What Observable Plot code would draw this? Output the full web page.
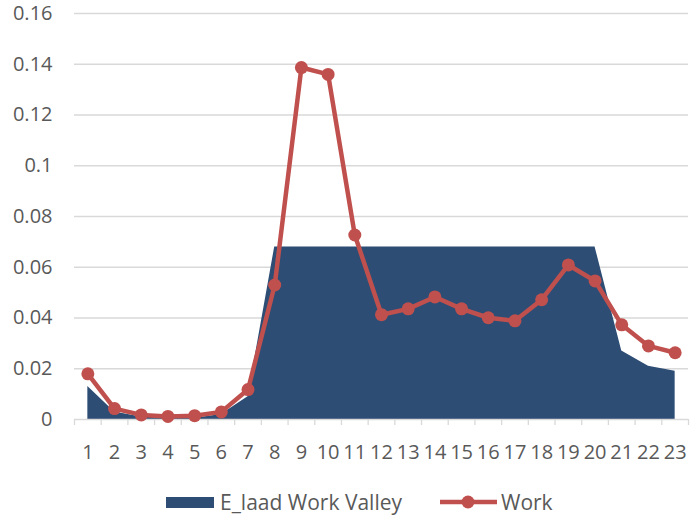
<!DOCTYPE html>
<html>
<head>
<meta charset="utf-8">
<script src="https://cdn.jsdelivr.net/npm/d3@7"></script>
<script src="https://cdn.jsdelivr.net/npm/@observablehq/plot@0.6"></script>
<style>
  body { margin: 0; background: #fff; font-family: "Open Sans", sans-serif; }
  #chart { width: 693px; height: 460px; }
  #legend { position: relative; height: 60px; width: 693px; font-size: 21px; color: #595959; }
  .item { position: absolute; top: 30px; display: flex; align-items: center; height: 24px; }
</style>
</head>
<body>
<div id="chart"></div>
<div id="legend">
  <div class="item" style="left:166px;">
    <span style="display:inline-block;width:48px;height:11px;background:#2D4D75;margin-right:6px;"></span>
    <span>E_laad Work Valley</span>
  </div>
  <div class="item" style="left:440px;">
    <svg width="58" height="16" style="margin-right:3px;"><line x1="0" y1="8" x2="57" y2="8" stroke="#C0504D" stroke-width="4.5"/><circle cx="28" cy="8" r="6.5" fill="#C0504D"/></svg>
    <span>Work</span>
  </div>
</div>
<script>
const hours = d3.range(1, 24);
const valleyValues = [0.013, 0.003, 0.001, 0.0005, 0.0005, 0.002, 0.009, 0.068, 0.068, 0.068, 0.068, 0.068, 0.068, 0.068, 0.068, 0.068, 0.068, 0.068, 0.068, 0.068, 0.027, 0.021, 0.019];
const workValues = [0.018, 0.0043, 0.0018, 0.0012, 0.0015, 0.003, 0.0118, 0.053, 0.1387, 0.136, 0.0727, 0.0413, 0.0436, 0.0483, 0.0436, 0.0401, 0.0389, 0.0472, 0.0609, 0.0546, 0.0373, 0.029, 0.0263];
const yTicks = [0, 0.02, 0.04, 0.06, 0.08, 0.1, 0.12, 0.14, 0.16];
const bandEdges = d3.range(0.5, 24, 1);

const valley = hours.map((h, i) => ({h, v: valleyValues[i]}));
const work = hours.map((h, i) => ({h, v: workValues[i]}));

const plot = Plot.plot({
  width: 693,
  height: 460,
  marginLeft: 74,
  marginRight: 5,
  marginTop: 13,
  marginBottom: 41,
  style: {fontFamily: "Open Sans, sans-serif", fontSize: "20px", color: "#595959", background: "#fff", overflow: "visible"},
  x: {domain: [0.5, 23.5]},
  y: {domain: [0, 0.16]},
  marks: [
    Plot.ruleY(yTicks.slice(1), {stroke: "#d9d9d9", strokeWidth: 1.3, strokeOpacity: 1}),
    Plot.axisY(yTicks, {tickSize: 0, tickPadding: 22, tickFormat: d => String(+d.toFixed(2)), fontSize: 20, fill: "#595959", label: null}),
    Plot.areaY(valley, {x: "h", y: "v", fill: "#2D4D75", curve: "linear"}),
    Plot.ruleY([0], {stroke: "#d9d9d9", strokeWidth: 1.3}),
    Plot.axisX(bandEdges, {tickSize: 6, stroke: "#d9d9d9", strokeWidth: 1.3, tickFormat: () => "", label: null}),
    Plot.axisX(hours, {tickSize: 0, tickPadding: 25, fontSize: 20, fill: "#595959", label: null}),
    Plot.line(work, {x: "h", y: "v", stroke: "#C0504D", strokeWidth: 4.5, curve: "linear"}),
    Plot.dot(work, {x: "h", y: "v", fill: "#C0504D", r: 6.5})
  ]
});
document.getElementById("chart").appendChild(plot);
</script>
</body>
</html>
